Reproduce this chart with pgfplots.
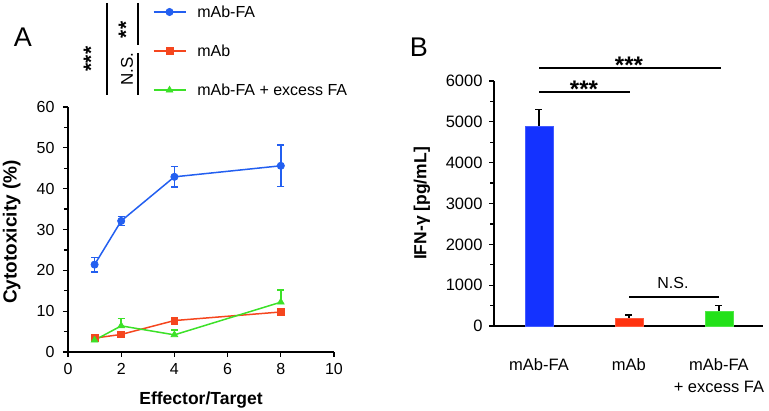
\documentclass[border=0pt]{standalone}
\usepackage{pgfplots}
\pgfplotsset{compat=1.18}
\usepackage{fontspec}
\setmainfont{Liberation Sans}
\definecolor{cblue}{RGB}{35,95,240}
\definecolor{cred}{RGB}{245,70,30}
\definecolor{cgreen}{RGB}{60,225,40}
\definecolor{bblue}{RGB}{20,50,255}
\definecolor{bred}{RGB}{255,50,15}
\definecolor{bgreen}{RGB}{35,225,25}
\pgfplotsset{
  common/.style={
    scale only axis,
    axis x line*=bottom, axis y line*=left,
    axis line style={line width=1.4pt, black},
    tick style={line width=1.3pt, black},
    tick align=outside,
    major tick length=5pt, minor tick length=4pt,
    /pgf/number format/assume math mode=true,
    /pgf/number format/1000 sep={},
    ticklabel style={font=\fontsize{16}{16}\selectfont},
    label style={font=\bfseries\fontsize{17.5}{17.5}\selectfont},
    enlargelimits=false,
    clip=false,
  }
}
\begin{document}
\begin{tikzpicture}[x=1pt,y=1pt]
\path[use as bounding box] (0,0) rectangle (769,411);
% ---------------- Panel A ----------------
\begin{axis}[common,
  at={(68pt,59pt)}, anchor=south west,
  width=266pt, height=245pt,
  xmin=0, xmax=10, ymin=0, ymax=60,
  xtick={0,2,...,10}, ytick={0,10,...,60},
  minor y tick num=1,
  yticklabel style={xshift=-5pt},
  xticklabel style={yshift=-3pt},
  xlabel={Effector/Target},
  xlabel style={at={(axis description cs:0.5,-0.196)}, anchor=center},
  ylabel={Cytotoxicity (\%)},
  ylabel style={at={(axis description cs:-0.212,0.49)}, anchor=center, rotate=0,
    font=\bfseries\fontsize{19}{19}\selectfont},
  legend style={draw=none, fill=none, at={(0.318,1.037)}, anchor=south west,
    font=\fontsize{16}{16}\selectfont, row sep=24pt, column sep=10pt, inner sep=0pt,
    nodes={inner sep=1pt}},
  legend cell align=left,
  legend image code/.code={\draw[#1, mark repeat=2, mark phase=2] plot coordinates {(0pt,0pt)(16pt,0pt)(32pt,0pt)};},
]
\addplot+[cblue, line width=1.5pt, mark=*, mark size=3.6pt, mark options={solid, fill=cblue, draw=cblue, line width=0.8pt},
  error bars/.cd, y dir=both, y explicit,
  error bar style={line width=1.5pt, cblue},
  error mark options={rotate=90, mark size=3.5pt, line width=1.5pt, cblue}]
  coordinates {
  (1,21.4) +- (0,1.8)
  (2,32.1) +- (0,1.1)
  (4,42.9) +- (0,2.5)
  (8,45.6) +- (0,5.1)
  };
\addlegendentry{mAb-FA}
\addplot+[cred, line width=1.5pt, mark=square*, mark size=3.4pt, mark options={solid, fill=cred, draw=cred, line width=0.8pt},
  error bars/.cd, y dir=both, y explicit,
  error bar style={line width=1.5pt, cred},
  error mark options={rotate=90, mark size=3.5pt, line width=1.5pt, cred}]
  coordinates {
  (1,3.4) +- (0,0.5)
  (2,4.3) +- (0,0.4)
  (4,7.7) +- (0,0.4)
  (8,9.8) +- (0,0.4)
  };
\addlegendentry{mAb}
\addplot+[cgreen, line width=1.5pt, mark=triangle*, mark size=3.8pt, mark options={solid, fill=cgreen, draw=cgreen, line width=0.8pt},
  error bars/.cd, y dir=plus, y explicit,
  error bar style={line width=1.5pt, cgreen},
  error mark options={rotate=90, mark size=3.5pt, line width=1.5pt, cgreen}]
  coordinates {
  (1,2.9) +- (0,0.4)
  (2,6.4) +- (0,1.8)
  (4,4.2) +- (0,1.2)
  (8,12.2) +- (0,3.0)
  };
\addlegendentry{mAb-FA + excess FA}
\end{axis}
% significance, panel A
\draw[line width=1.4pt] (107,408) -- (107,316);
\draw[line width=1.4pt] (138,408) -- (138,366);
\draw[line width=1.4pt] (138,358) -- (138,316);
\node[rotate=90, font=\bfseries\fontsize{21}{21}\selectfont] at (91,352) {***};
\node[rotate=90, font=\bfseries\fontsize{21}{21}\selectfont] at (126,381) {**};
\node[rotate=90, font=\fontsize{17}{17}\selectfont] at (127,342) {N.S.};
\node[font=\fontsize{27}{27}\selectfont] at (23,374) {A};
% ---------------- Panel B ----------------
\begin{axis}[common,
  at={(494pt,85pt)}, anchor=south west,
  width=269pt, height=245pt,
  xmin=-0.5, xmax=2.49, ymin=0, ymax=6000,
  xtick={0,1,2},
  xticklabels={mAb-FA, mAb, {mAb-FA\\+ excess FA}},
  xticklabel style={align=center, yshift=-24pt, font=\fontsize{16.5}{22}\selectfont},
  x tick style={draw=none},
  major x tick style={draw=none},
  ytick={0,1000,...,6000},
  minor y tick num=1,
  yticklabel style={xshift=-3pt, font=\fontsize{16.5}{16.5}\selectfont},
  ylabel={IFN-γ [pg/mL]},
  ylabel style={at={(axis description cs:-0.268,0.5)}, anchor=center, rotate=0},
]
\addplot[ybar, bar width=28pt, bar shift=0pt, fill=bblue, draw=bblue!80!white,
  error bars/.cd, y dir=plus, y explicit,
  error bar style={line width=1.4pt, black},
  error mark options={rotate=90, mark size=3.5pt, line width=1.4pt, black}]
  coordinates {(0,4900) +- (0,400)};
\addplot[ybar, bar width=28pt, bar shift=0pt, fill=bred, draw=bred!80!white,
  error bars/.cd, y dir=plus, y explicit,
  error bar style={line width=1.4pt, black},
  error mark options={rotate=90, mark size=3.5pt, line width=1.4pt, black}]
  coordinates {(1,200) +- (0,70)};
\addplot[ybar, bar width=28pt, bar shift=0pt, fill=bgreen, draw=bgreen!80!white,
  error bars/.cd, y dir=plus, y explicit,
  error bar style={line width=1.4pt, black},
  error mark options={rotate=90, mark size=3.5pt, line width=1.4pt, black}]
  coordinates {(2,370) +- (0,130)};
\end{axis}
% significance, panel B
\draw[line width=1.4pt] (539,343) -- (721,343);
\draw[line width=1.4pt] (539,319) -- (630,319);
\draw[line width=1.4pt] (629,114) -- (719,114);
\node[font=\bfseries\fontsize{24}{24}\selectfont] at (629,346) {***};
\node[font=\bfseries\fontsize{24}{24}\selectfont] at (584,322) {***};
\node[font=\fontsize{16}{16}\selectfont] at (673,128) {N.S.};
\node[font=\fontsize{27}{27}\selectfont] at (419,364) {B};
\end{tikzpicture}
\end{document}
